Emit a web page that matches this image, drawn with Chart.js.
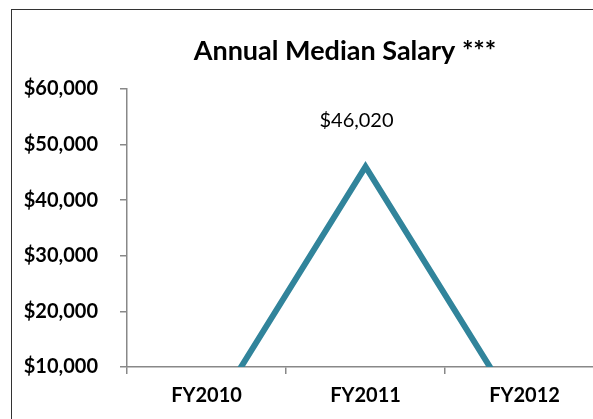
<!DOCTYPE html>
<html>
<head>
<meta charset="utf-8">
<script src="https://cdn.jsdelivr.net/npm/chart.js@4"></script>
<style>
  html, body { margin: 0; padding: 0; background: #fff; overflow: hidden; width: 593px; height: 419px; }
  #frame { position: absolute; left: 11px; top: 9px; width: 700px; height: 500px; border-left: 1.5px solid #333; border-top: 1.5px solid #333; }
  #wrap { position: absolute; left: 0; top: 0; width: 690px; height: 440px; }
</style>
</head>
<body>
<div id="frame"></div>
<div id="wrap"><canvas id="chart"></canvas></div>
<script>
const categories = ["FY2010", "FY2011", "FY2012"];
const salary = [0, 46020, 0];
const labelled = [false, true, false];
const yTicks = [10000, 20000, 30000, 40000, 50000, 60000];

const money = v => "$" + v.toLocaleString("en-US");
const font = "Lato, 'Open Sans', sans-serif";

// data label above the peak point
const valueLabels = {
    id: "valueLabels",
    afterDatasetsDraw(chart) {
        const ctx = chart.ctx;
        const meta = chart.getDatasetMeta(0);
        ctx.save();
        ctx.font = "20px " + font;
        ctx.fillStyle = "#000";
        ctx.textAlign = "center";
        ctx.textBaseline = "alphabetic";
        meta.data.forEach((pt, i) => {
            if (!labelled[i]) return;
            ctx.fillText(money(salary[i]), pt.x - 9, pt.y - 40);
        });
        ctx.restore();
    }
};

new Chart(document.getElementById("chart"), {
    type: "line",
    data: {
        labels: categories,
        datasets: [{
            data: salary,
            borderColor: "#31849B",
            borderWidth: 6,
            pointRadius: 0,
            tension: 0,
            clip: 0,
            borderJoinStyle: "miter"
        }]
    },
    options: {
        responsive: true,
        maintainAspectRatio: false,
        animation: false,
        layout: { padding: 0 },
        plugins: {
            legend: { display: false },
            tooltip: { enabled: false },
            title: {
                display: true,
                text: "Annual Median Salary ***",
                color: "#000",
                font: { family: font, size: 27, weight: "bold", lineHeight: 1.2 },
                padding: { top: 35, bottom: 21.6 }
            }
        },
        scales: {
            x: {
                offset: true,
                grid: { offset: true, drawOnChartArea: false, drawTicks: true, tickLength: 7, color: "#888", lineWidth: 1.5 },
                border: { color: "#888", width: 1.5 },
                ticks: { color: "#000", padding: 10, font: { family: font, size: 20, weight: "bold" } },
                afterFit: s => { s.height = 73; }
            },
            y: {
                min: 10000,
                max: 60000,
                afterBuildTicks: s => { s.ticks = yTicks.map(v => ({ value: v })); },
                grid: { drawOnChartArea: false, drawTicks: true, tickLength: 7, color: "#888", lineWidth: 1.5 },
                border: { color: "#888", width: 1.5 },
                ticks: { color: "#000", padding: 22, font: { family: font, size: 20, weight: "bold" }, callback: v => money(v) },
                afterFit: s => { s.width = 127; }
            },
            // empty right-hand axis: keeps the plot's right edge off-screen while the title stays centred on the whole frame
            yRight: {
                position: "right",
                display: true,
                grid: { display: false },
                border: { display: false },
                ticks: { display: false },
                afterFit: s => { s.width = 86; }
            }
        }
    },
    plugins: [valueLabels]
});
</script>
</body>
</html>
